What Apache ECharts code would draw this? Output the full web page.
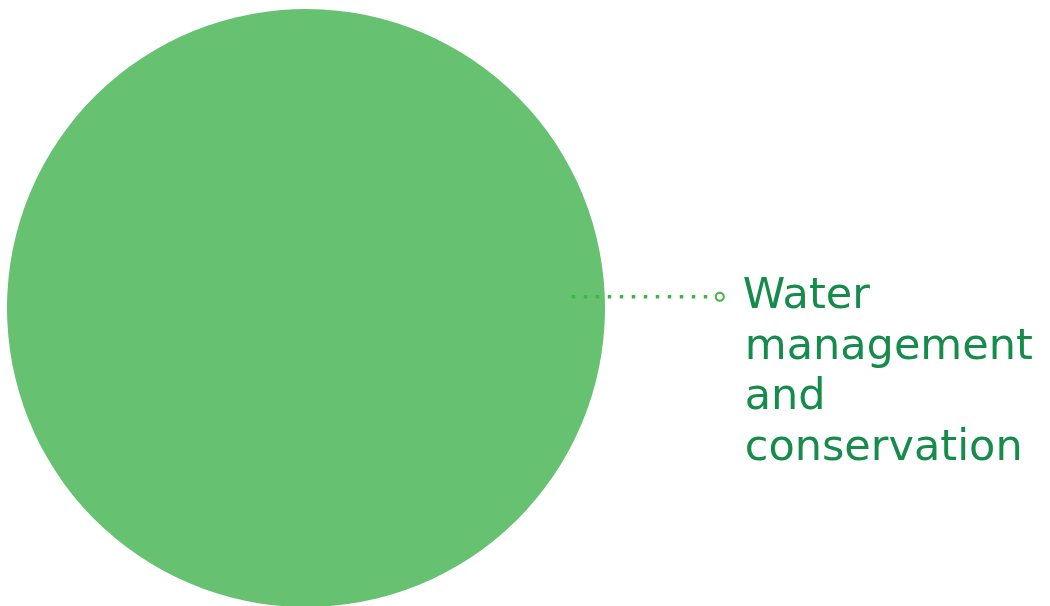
<!DOCTYPE html>
<html>
<head>
<meta charset="utf-8">
<script src="https://cdn.jsdelivr.net/npm/echarts@6/dist/echarts.min.js"></script>
<style>
  html, body { margin: 0; padding: 0; background: #fff; }
  #chart { width: 1050px; height: 606px; }
</style>
</head>
<body>
<div id="chart"></div>
<script>
const categories = ['Water management and conservation'];
const values = [100];
const colors = ['#66c270'];

const chart = echarts.init(document.getElementById('chart'));

// one word per line, first line carries the hollow end dot of the leader line
const labelText = (name) => {
    return name.split(' ').map((w, i) => (i === 0 ? '{dot|}{gap|}' : '{sp|}') + '{t|' + w + '}').join('\n');
};

const pieData = categories.map((c, i) => ({ name: c, value: values[i], itemStyle: { color: colors[i] } }));

chart.setOption({
    animation: false,
    series: [
        {
            // the big disc
            type: 'pie',
            z: 1,
            center: [306, 308],
            radius: 299,
            startAngle: 182.4,
            data: pieData,
            label: { show: false },
            labelLine: { show: false },
            silent: true
        },
        {
            // same data on a smaller transparent ring so the leader starts inside the disc
            type: 'pie',
            z: 5,
            center: [306, 308],
            radius: 266,
            startAngle: 182.4,
            avoidLabelOverlap: false,
            data: pieData.map((d) => ({ ...d, itemStyle: { color: 'rgba(0,0,0,0)' } })),
            label: {
                show: true,
                position: 'outside',
                alignTo: 'none',
                distanceToLabelLine: 0,
                // top padding keeps the first line level with the leader
                padding: [151.5, 0, 0, 0],
                formatter: (p) => labelText(p.name),
                rich: {
                    dot: { width: 6, height: 6, borderRadius: 6, borderWidth: 2, borderColor: '#40b34b', backgroundColor: '#fff' },
                    gap: { width: 20 },
                    sp: { width: 28 },
                    t: { fontFamily: 'DejaVu Sans', fontSize: 43, lineHeight: 50.5, color: '#168c4c' }
                }
            },
            labelLine: {
                show: true,
                showAbove: true,
                length: 0,
                length2: 145,
                lineStyle: { color: '#40b34b', width: 3.5, type: [3.5, 8.5] }
            }
        }
    ]
});
</script>
</body>
</html>
